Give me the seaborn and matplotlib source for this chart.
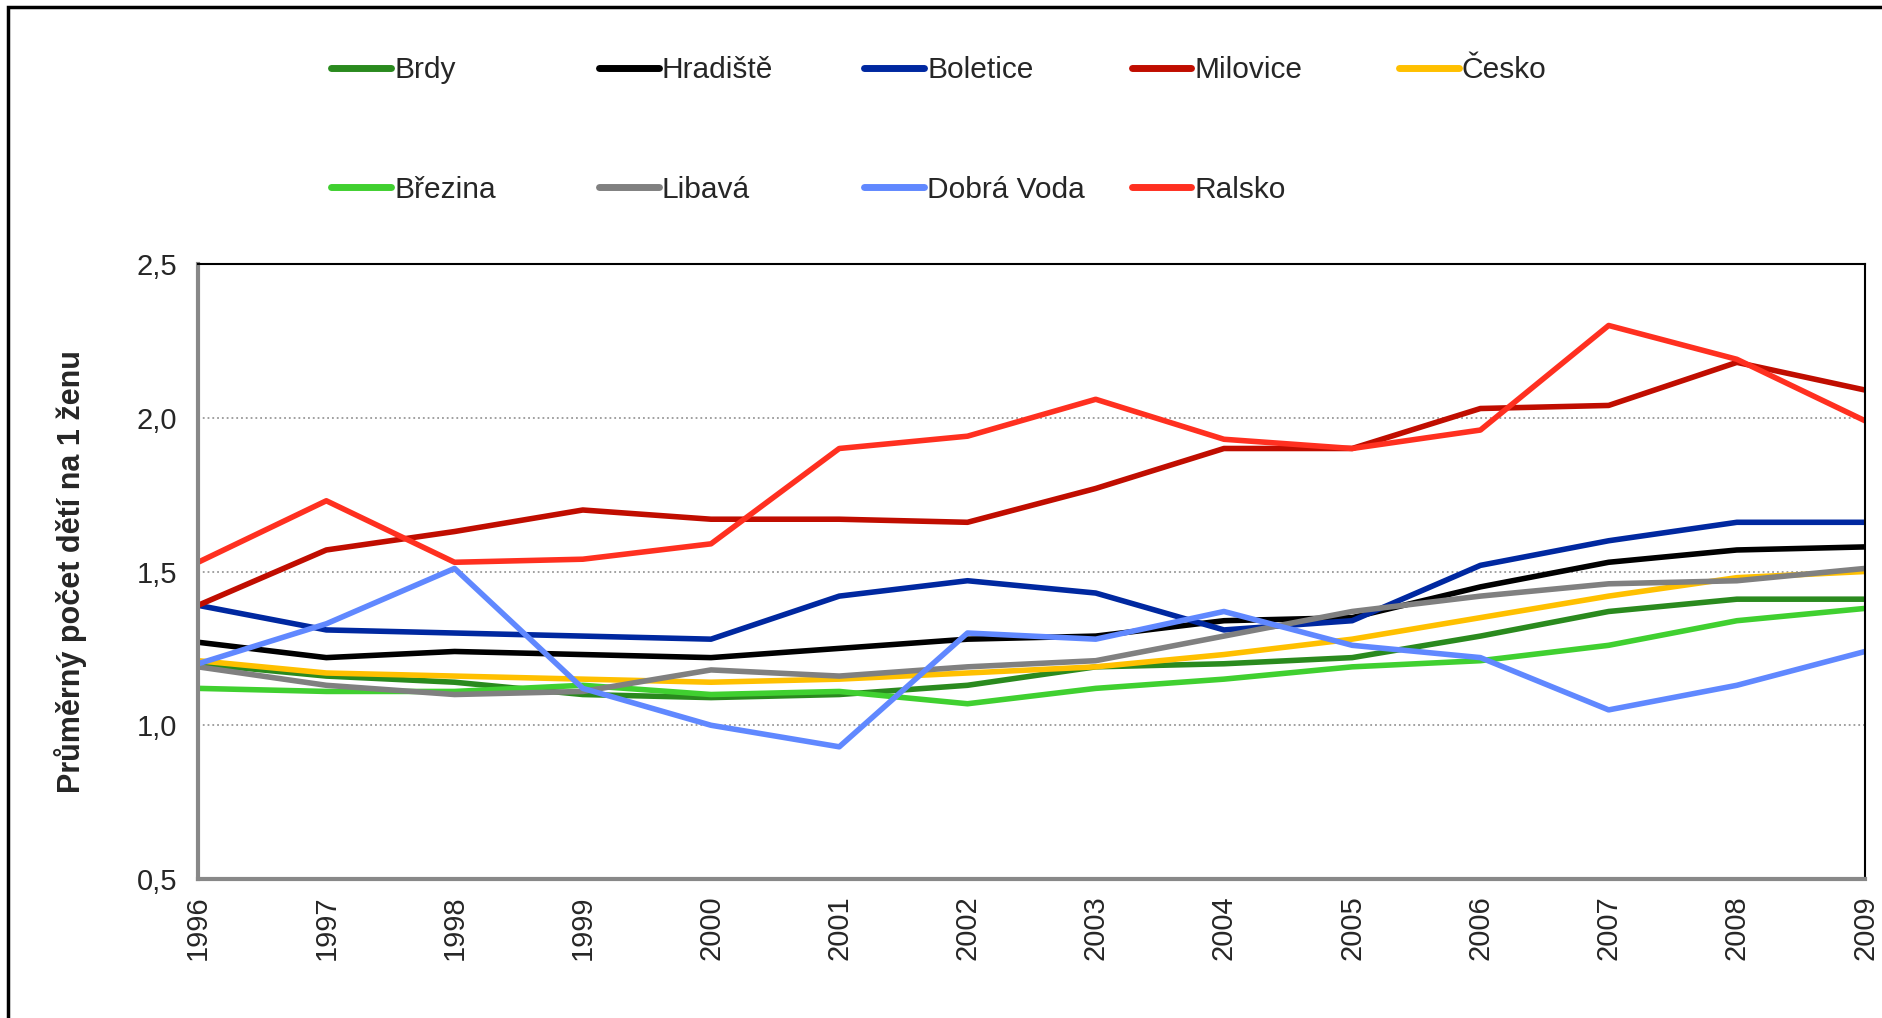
import pandas as pd
import seaborn as sns
import matplotlib.pyplot as plt
from matplotlib.patches import Rectangle
from matplotlib.ticker import FuncFormatter

# data (average number of children per woman)
years = list(range(1996, 2010))

brdy = [1.20, 1.16, 1.14, 1.10, 1.09, 1.10, 1.13, 1.19, 1.20, 1.22, 1.29, 1.37, 1.41, 1.41]
hradiste = [1.27, 1.22, 1.24, 1.23, 1.22, 1.25, 1.28, 1.29, 1.34, 1.35, 1.45, 1.53, 1.57, 1.58]
boletice = [1.39, 1.31, 1.30, 1.29, 1.28, 1.42, 1.47, 1.43, 1.31, 1.34, 1.52, 1.60, 1.66, 1.66]
milovice = [1.39, 1.57, 1.63, 1.70, 1.67, 1.67, 1.66, 1.77, 1.90, 1.90, 2.03, 2.04, 2.18, 2.09]
cesko = [1.21, 1.17, 1.16, 1.15, 1.14, 1.15, 1.17, 1.19, 1.23, 1.28, 1.35, 1.42, 1.48, 1.50]
brezina = [1.12, 1.11, 1.11, 1.13, 1.10, 1.11, 1.07, 1.12, 1.15, 1.19, 1.21, 1.26, 1.34, 1.38]
libava = [1.19, 1.13, 1.10, 1.11, 1.18, 1.16, 1.19, 1.21, 1.29, 1.37, 1.42, 1.46, 1.47, 1.51]
dobra_voda = [1.20, 1.33, 1.51, 1.12, 1.00, 0.93, 1.30, 1.28, 1.37, 1.26, 1.22, 1.05, 1.13, 1.24]
ralsko = [1.53, 1.73, 1.53, 1.54, 1.59, 1.90, 1.94, 2.06, 1.93, 1.90, 1.96, 2.30, 2.19, 1.99]

names = ['Brdy', 'Hradiště', 'Boletice', 'Milovice', 'Česko',
         'Březina', 'Libavá', 'Dobrá Voda', 'Ralsko']
series = [brdy, hradiste, boletice, milovice, cesko, brezina, libava, dobra_voda, ralsko]

colour_scheme = {'Brdy': '#2a8a1e', 'Hradiště': '#000000', 'Boletice': '#0028a0',
                 'Milovice': '#c00d00', 'Česko': '#ffc000', 'Březina': '#40d030',
                 'Libavá': '#808080', 'Dobrá Voda': '#6088ff', 'Ralsko': '#ff3020'}

# long table for seaborn
frames = []
for name, vals in zip(names, series):
    frames.append(pd.DataFrame({'rok': years, 'hodnota': vals, 'oblast': name}))
df = pd.concat(frames, ignore_index=True)

sns.set_style('white')
plt.rcParams['font.family'] = ['Liberation Sans', 'DejaVu Sans']

fig, ax = plt.subplots(figsize=(18.83, 10.18), dpi=100)
fig.subplots_adjust(left=0.1052, right=0.9905, bottom=0.1365, top=0.7407)

sns.lineplot(data=df, x='rok', y='hodnota', hue='oblast', hue_order=names,
             palette=colour_scheme, linewidth=4, ax=ax)

ax.set_xlim(1996, 2009)
ax.set_ylim(0.5, 2.5)
ax.set_xticks(years)
ax.set_xticklabels([str(y) for y in years], rotation=90, fontsize=21)
ax.set_yticks([0.5, 1.0, 1.5, 2.0, 2.5])
ax.yaxis.set_major_formatter(FuncFormatter(lambda v, p: f'{v:.1f}'.replace('.', ',')))
ax.tick_params(axis='y', labelsize=21, length=7, color='#888888', width=1.5,
               direction='out', pad=8)
ax.tick_params(axis='x', length=7, color='#888888', width=1.5, direction='out', pad=5)
ax.set_xlabel('')
ax.set_ylabel('Průměrný počet dětí na 1 ženu', fontsize=22, fontweight='bold')
ax.yaxis.set_label_coords(-0.0665, 0.5)

# dotted gridlines
ax.yaxis.grid(True, linestyle=':', color='#999999', linewidth=1.3)
ax.set_axisbelow(True)

for side in ['left', 'bottom']:
    ax.spines[side].set_color('#888888')
    ax.spines[side].set_linewidth(3)
for side in ['top', 'right']:
    ax.spines[side].set_color('black')
    ax.spines[side].set_linewidth(1.5)

# legend: one small legend per column so the columns are evenly spaced
handles, labels = ax.get_legend_handles_labels()
ax.get_legend().remove()
lookup = dict(zip(labels, handles))
columns = [['Brdy', 'Březina'], ['Hradiště', 'Libavá'], ['Boletice', 'Dobrá Voda'],
           ['Milovice', 'Ralsko'], ['Česko']]
col_x = [0.176, 0.318, 0.459, 0.601, 0.743]
for x, col in zip(col_x, columns):
    leg = fig.legend([lookup[c] for c in col], col, loc='upper left',
                     bbox_to_anchor=(x, 0.945), frameon=False, fontsize=21.5,
                     handlelength=2.0, handletextpad=0.1, labelspacing=3.07,
                     borderpad=0, borderaxespad=0)
    for line in leg.get_lines():
        line.set_linewidth(5)

# outer frame of the chart
fig.patches.append(Rectangle((0.0045, -0.05), 1.2, 1.05 - 0.007, transform=fig.transFigure,
                             fill=False, edgecolor='black', linewidth=2.5))

fig.savefig('out.png', dpi=100)
